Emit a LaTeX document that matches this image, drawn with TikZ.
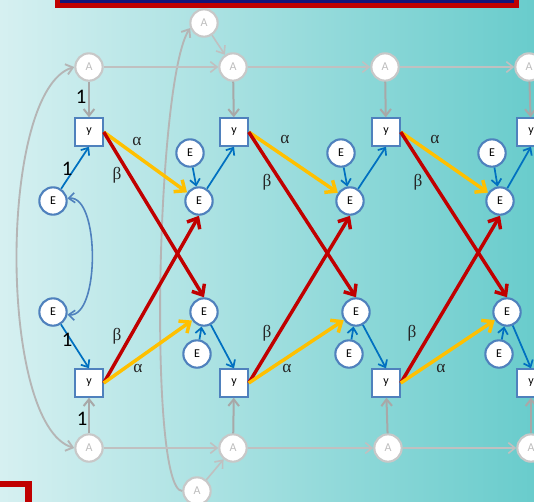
\documentclass[tikz,border=0pt]{standalone}
\usepackage{fontspec}
\setmainfont{Carlito}
\newfontfamily\grfont{Liberation Serif}
\usetikzlibrary{arrows.meta}
\definecolor{bgL}{RGB}{214,240,241}
\definecolor{bgR}{RGB}{105,204,204}
\definecolor{frameRed}{RGB}{192,0,0}
\definecolor{frameNavy}{RGB}{20,20,120}
\definecolor{agray}{RGB}{200,200,200}
\definecolor{atext}{RGB}{190,190,190}
\definecolor{lgray}{RGB}{192,192,192}
\definecolor{dgray}{RGB}{168,168,168}
\definecolor{eblue}{RGB}{79,129,189}
\definecolor{ablue}{RGB}{0,112,192}
\definecolor{ayellow}{RGB}{255,192,0}
\definecolor{ared}{RGB}{192,0,0}
\tikzset{
  acirc/.style={circle, draw=agray, line width=1.6pt, fill=white, text=atext, minimum size=20.5pt, inner sep=0pt, font=\fontsize{9}{9}\selectfont},
  ecirc/.style={circle, draw=eblue, line width=1.6pt, fill=white, text=black, minimum size=20.5pt, inner sep=0pt, font=\fontsize{9}{9}\selectfont},
  ybox/.style={rectangle, draw=eblue, line width=1.6pt, fill=white, text=black, minimum size=20.5pt, inner sep=0pt, font=\fontsize{9}{9}\selectfont},
  aarrow/.style={draw=lgray, line width=1.2pt, -{Straight Barb[length=5pt,width=8pt]}},
  varrow/.style={draw=dgray, line width=1.5pt, -{Straight Barb[length=5pt,width=8pt]}},
  curvearrow/.style={draw=dgray!85, line width=1.4pt},
  barrow/.style={draw=ablue, line width=1.3pt, -{Straight Barb[length=4.5pt,width=7.5pt]}},
  yarrow/.style={draw=ayellow, line width=2.6pt, -{Straight Barb[length=6.5pt,width=11pt]}},
  rarrow/.style={draw=ared, line width=2.6pt, -{Straight Barb[length=6.5pt,width=11pt]}},
  lbl/.style={font=\grfont\fontsize{13}{13}\selectfont, inner sep=0pt, text=black!85},
  glbl/.style={font=\fontsize{15.5}{15.5}\selectfont, inner sep=0pt, text=black}
}
\begin{document}
\begin{tikzpicture}[x=0.75pt,y=-0.75pt]
\useasboundingbox (0,0) rectangle (534,501);
\shade[left color=bgL, right color=bgR] (0,0) rectangle (534,501);
\begin{scope}
\clip (0,0) rectangle (534,501);
% frames
\draw[line width=3.8pt, frameRed] (57.5,-30) rectangle (516,5);
\draw[line width=2pt, frameNavy] (61,-30) rectangle (512.5,1.3);
\draw[line width=5pt, frameRed] (-30,484) rectangle (28.5,530);

% A nodes
\node[acirc] (A0) at (204,23) {A};
\node[acirc] (A1) at (89,67) {A};
\node[acirc] (A2) at (233,67) {A};
\node[acirc] (A3) at (385,67) {A};
\node[acirc] (A4) at (529,67) {A};
\node[acirc] (B0) at (197,491) {A};
\node[acirc] (B1) at (89,448) {A};
\node[acirc] (B2) at (233,448) {A};
\node[acirc] (B3) at (388,448) {A};
\node[acirc] (B4) at (531,448) {A};
% y boxes
\node[ybox] (Y1) at (89,132) {y};
\node[ybox] (Y2) at (234,132) {y};
\node[ybox] (Y3) at (386,132) {y};
\node[ybox] (Y4) at (531,132) {y};
\node[ybox] (Z1) at (89,383) {y};
\node[ybox] (Z2) at (234,383) {y};
\node[ybox] (Z3) at (386,383) {y};
\node[ybox] (Z4) at (531,383) {y};
% E nodes
\node[ecirc] (E1) at (53,201) {E};
\node[ecirc] (E2) at (199,201) {E};
\node[ecirc] (E3) at (350,201) {E};
\node[ecirc] (E4) at (500,201) {E};
\node[ecirc] (S2) at (190,153) {E};
\node[ecirc] (S3) at (341,153) {E};
\node[ecirc] (S4) at (492,153) {E};
\node[ecirc] (F1) at (53,312) {E};
\node[ecirc] (F2) at (204,312) {E};
\node[ecirc] (F3) at (356,312) {E};
\node[ecirc] (F4) at (507,312) {E};
\node[ecirc] (T2) at (197,354) {E};
\node[ecirc] (T3) at (349,354) {E};
\node[ecirc] (T4) at (499,354) {E};

% gray curves
\draw[curvearrow, {Straight Barb[length=5pt,width=8pt]}-{Straight Barb[length=5pt,width=8pt]}] (B1.west) .. controls (-2,425) and (-2,90) .. (A1.west);
\draw[curvearrow, -{Straight Barb[length=5pt,width=8pt]}] (B0.west) .. controls (148,491) and (156,80) .. (A0.200);

% gray horizontal arrows
\draw[aarrow] (A1) -- (A2);
\draw[aarrow] (A2) -- (A3);
\draw[aarrow] (A3) -- (A4);
\draw[aarrow] (A0) -- (A2);
\draw[aarrow] (B1) -- (B2);
\draw[aarrow] (B2) -- (B3);
\draw[aarrow] (B3) -- (B4);
\draw[aarrow] (B0) -- (B2);
% gray vertical arrows
\draw[varrow] (A1) -- (Y1);
\draw[varrow] (A2) -- (Y2);
\draw[varrow] (A3) -- (Y3);
\draw[varrow] (A4) -- (Y4);
\draw[varrow] (B1) -- (Z1);
\draw[varrow] (B2) -- (Z2);
\draw[varrow] (B3) -- (Z3);
\draw[varrow] (B4) -- (Z4);

% blue arrows
\draw[barrow] (E1) -- (Y1.south);
\draw[barrow] (E2) -- (Y2.south);
\draw[barrow] (E3) -- (Y3.south);
\draw[barrow] (E4) -- (Y4.south);
\draw[barrow] (F1) -- (Z1.north);
\draw[barrow] (F2) -- (Z2.north);
\draw[barrow] (F3) -- (Z3.north);
\draw[barrow] (F4) -- (Z4.north);
\draw[barrow] (S2) -- (E2);
\draw[barrow] (S3) -- (E3);
\draw[barrow] (S4) -- (E4);
\draw[barrow] (T2) -- (F2);
\draw[barrow] (T3) -- (F3);
\draw[barrow] (T4) -- (F4);
\draw[draw=eblue, line width=1.2pt, {Straight Barb[length=4.5pt,width=7.5pt]}-{Straight Barb[length=4.5pt,width=7.5pt]}] (E1.10) .. controls (100,195) and (100,318) .. (F1.-10);

% labels 1
\node[glbl] (l0) at (81,97) {1};
\node[glbl] (l1) at (67,169) {1};
\node[glbl] (l2) at (67,340) {1};
\node[glbl] (l3) at (82,419) {1};

% cross-lagged arrows
\draw[yarrow] (Y1.east) -- (E2);
\draw[rarrow] (Y1.east) -- (F2.north);
\draw[rarrow] (Z1.east) -- (E2.south);
\draw[yarrow] (Z1.east) -- (F2);
\draw[yarrow] (Y2.east) -- (E3);
\draw[rarrow] (Y2.east) -- (F3.north);
\draw[rarrow] (Z2.east) -- (E3.south);
\draw[yarrow] (Z2.east) -- (F3);
\draw[yarrow] (Y3.east) -- (E4);
\draw[rarrow] (Y3.east) -- (F4.north);
\draw[rarrow] (Z3.east) -- (E4.south);
\draw[yarrow] (Z3.east) -- (F4);

% alpha / beta labels
\node[lbl] (a1) at (137,141) {α};
\node[lbl] (a2) at (285,139) {α};
\node[lbl] (a3) at (435,139) {α};
\node[lbl] (b1) at (117,175) {β};
\node[lbl] (b2) at (267,182) {β};
\node[lbl] (b3) at (418,182) {β};
\node[lbl] (b4) at (117,336) {β};
\node[lbl] (b5) at (267,333) {β};
\node[lbl] (b6) at (412,333) {β};
\node[lbl] (a4) at (138,368) {α};
\node[lbl] (a5) at (287,368) {α};
\node[lbl] (a6) at (441,368) {α};
\end{scope}
\end{tikzpicture}
\end{document}
